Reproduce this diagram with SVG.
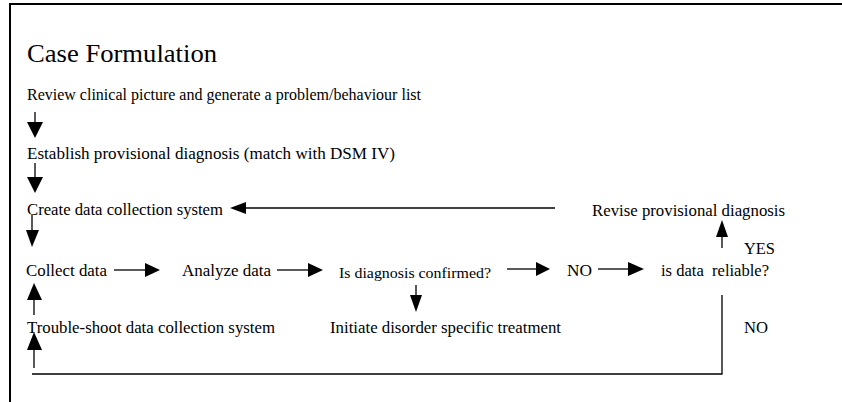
<svg xmlns="http://www.w3.org/2000/svg" width="842" height="402" viewBox="0 0 842 402">
<style>
.t{font-size:16px}
.s{font-size:14px}
.ttl{font-size:26px}
.ln{stroke:#000;stroke-width:1.3;fill:none}
.hd{fill:#000;stroke:none}
</style>
<rect width="842" height="402" fill="#fff"/>
<path d="M10 402 V4 H842" stroke="#000" stroke-width="2" fill="none"/>
<g font-family="'Liberation Serif', 'DejaVu Serif', serif" fill="#000">
<text class="ttl" x="27" y="62" textLength="190" lengthAdjust="spacingAndGlyphs">Case Formulation</text>
<g id="review"><text class="t" x="27" y="100" textLength="394" lengthAdjust="spacingAndGlyphs">Review clinical picture and generate a problem/behaviour list</text></g>
<g id="establish"><text class="t" x="27" y="159" textLength="368" lengthAdjust="spacingAndGlyphs">Establish provisional diagnosis (match with DSM IV)</text></g>
<g id="create"><text class="t" x="27" y="215" textLength="196" lengthAdjust="spacingAndGlyphs">Create data collection system</text></g>
<g id="revise"><text class="t" x="592" y="216" textLength="193" lengthAdjust="spacingAndGlyphs">Revise provisional diagnosis</text></g>
<g id="collect"><text class="t" x="26" y="276" textLength="81" lengthAdjust="spacingAndGlyphs">Collect data</text></g>
<g id="analyze"><text class="t" x="182" y="276" textLength="89" lengthAdjust="spacingAndGlyphs">Analyze data</text></g>
<g id="confirmed"><text class="s" x="339" y="278" textLength="152" lengthAdjust="spacingAndGlyphs">Is diagnosis confirmed?</text></g>
<g id="no1"><text class="t" x="567" y="276" textLength="25" lengthAdjust="spacingAndGlyphs">NO</text></g>
<g id="reliable"><text class="t" x="661" y="276" textLength="108" lengthAdjust="spacingAndGlyphs" xml:space="preserve">is data  reliable?</text></g>
<g id="yes"><text class="t" x="744" y="254" textLength="31" lengthAdjust="spacingAndGlyphs">YES</text></g>
<g id="trouble"><text class="t" x="27" y="333" textLength="248" lengthAdjust="spacingAndGlyphs">Trouble-shoot data collection system</text></g>
<g id="initiate"><text class="t" x="330" y="333" textLength="231" lengthAdjust="spacingAndGlyphs">Initiate disorder specific treatment</text></g>
<g id="no2"><text class="t" x="744" y="333" textLength="24" lengthAdjust="spacingAndGlyphs">NO</text></g>
</g>
<g id="connectors">
<path class="ln" d="M35 112 V123"/><path class="hd" d="M27 122 H43 L35 138 Z"/>
<path class="ln" d="M35 163 V178"/><path class="hd" d="M27 177 H43 L35 193 Z"/>
<path class="ln" d="M555 208 H244"/><path class="hd" d="M246 202 V214 L230 208 Z"/>
<path class="ln" d="M32 215 V231"/><path class="hd" d="M26 230 H39 L32 247 Z"/>
<path class="ln" d="M114 270 H146"/><path class="hd" d="M145 263 V277 L160 270 Z"/>
<path class="ln" d="M277 270 H309"/><path class="hd" d="M308 263 V277 L323 270 Z"/>
<path class="ln" d="M507 269 H537"/><path class="hd" d="M536 262 V276 L550 269 Z"/>
<path class="ln" d="M598 269 H629"/><path class="hd" d="M628 262 V276 L644 269 Z"/>
<path class="ln" d="M416 285 V296"/><path class="hd" d="M410 295 H422 L416 312 Z"/>
<path class="ln" d="M722 248 V236"/><path class="hd" d="M716 237 H728 L722 220 Z"/>
<path class="ln" d="M34 315 V299"/><path class="hd" d="M27 300 H42 L34 283 Z"/>
<path class="ln" d="M722 295 V374 H32"/>
<path class="ln" d="M34 368 V349"/><path class="hd" d="M27 350 H42 L34 332 Z"/>
</g>
</svg>
